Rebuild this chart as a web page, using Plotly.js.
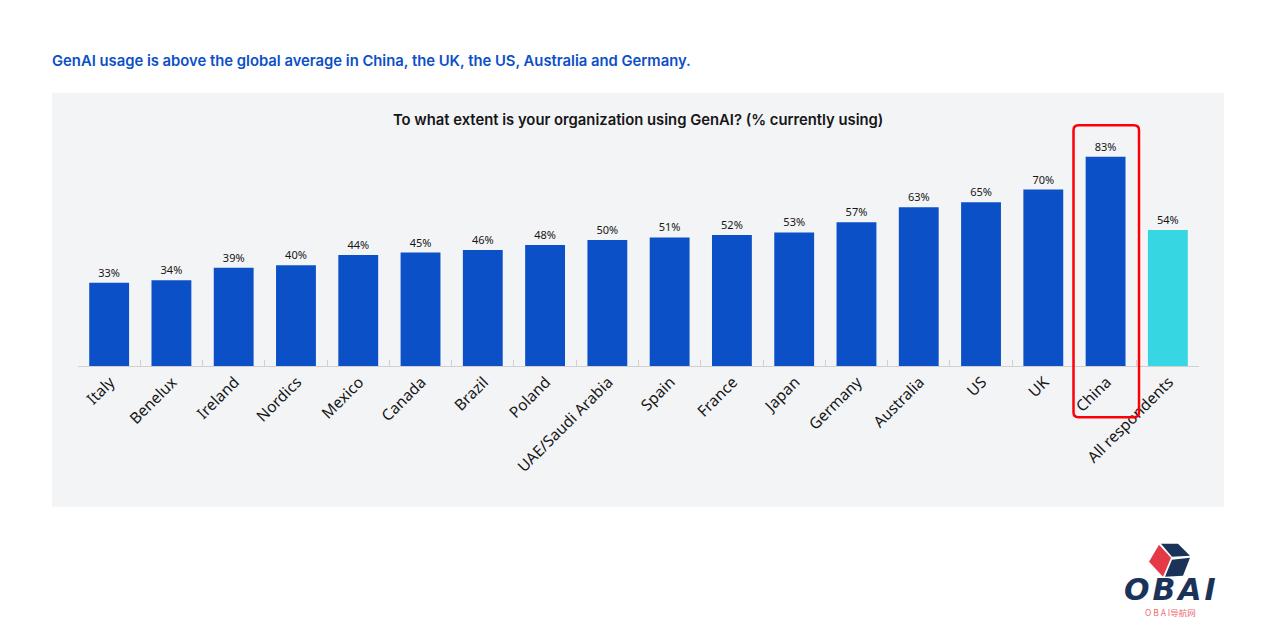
<!DOCTYPE html>
<html><head><meta charset="utf-8">
<script src="https://cdn.plot.ly/plotly-3.0.1.min.js"></script>
<style>html,body{margin:0;padding:0;background:#fff}#c{width:1277px;height:626px}</style>
</head><body><div id="c"></div>
<script>
const categories=["Italy","Benelux","Ireland","Nordics","Mexico","Canada","Brazil","Poland","UAE/Saudi Arabia","Spain","France","Japan","Germany","Australia","US","UK","China","All respondents"];
const values=[33,34,39,40,44,45,46,48,50,51,52,53,57,63,65,70,83,54];
const labels=values.map(v=>v+"%");
const BLUE="#0c50c8",TEAL="#36d6e3",NAVY="#1b3358",RED="#e63946";
const colors=categories.map(c=>c==="All respondents"?TEAL:BLUE);
const W=1277,H=626,L=78,R=78,T=114.3,B=259.7;
const px=x=>(x-L)/(W-L-R), py=y=>1-(y-T)/(H-T-B);
const poly=(pts,fill)=>({type:"path",xref:"paper",yref:"paper",layer:"above",fillcolor:fill,line:{width:0},
  path:"M"+pts.map(p=>px(p[0])+","+py(p[1])).join("L")+"Z"});
const note=(x,y,text,size,color,anchor,weight,family,style)=>({xref:"paper",yref:"paper",x:px(x),y:py(y),text,showarrow:false,
  xanchor:anchor,yanchor:"middle",font:{size,color,family,weight:weight||400,style:style||"normal"}});
const SANS="Inter, 'Noto Sans', sans-serif";
const rr=(x0,y0,x1,y1,r)=>`M${px(x0+r)},${py(y0)}L${px(x1-r)},${py(y0)}Q${px(x1)},${py(y0)} ${px(x1)},${py(y0+r)}L${px(x1)},${py(y1-r)}Q${px(x1)},${py(y1)} ${px(x1-r)},${py(y1)}L${px(x0+r)},${py(y1)}Q${px(x0)},${py(y1)} ${px(x0)},${py(y1-r)}L${px(x0)},${py(y0+r)}Q${px(x0)},${py(y0)} ${px(x0+r)},${py(y0)}Z`;
Plotly.newPlot("c",[{type:"bar",x:categories,y:values,text:labels,textposition:"outside",cliponaxis:false,
  textfont:{size:11,color:"#161616",family:"'Noto Sans', sans-serif"},marker:{color:colors,line:{width:0}},width:0.64,hoverinfo:"x+y"}],{
  width:W,height:H,margin:{l:L,r:R,t:T,b:B,pad:0},paper_bgcolor:"#fff",plot_bgcolor:"rgba(0,0,0,0)",showlegend:false,
  xaxis:{type:"category",tickangle:-45,tickson:"boundaries",ticks:"inside",ticklen:6,tickcolor:"#d0d0d0",tickwidth:1,ticklabelshift:1,
    showline:true,linecolor:"#d0d0d0",linewidth:1,showgrid:false,automargin:false,tickfont:{size:15.5,color:"#161616",family:"'Noto Sans', sans-serif"}},
  yaxis:{range:[0,100],visible:false,showgrid:false,zeroline:false},
  shapes:[
    {type:"rect",xref:"paper",yref:"paper",layer:"below",x0:px(52),x1:px(1224),y0:py(93),y1:py(507),fillcolor:"#f3f4f6",line:{width:0}},
    {type:"path",xref:"paper",yref:"paper",layer:"above",path:rr(1073.5,125.5,1139,417.5,5),fillcolor:"rgba(0,0,0,0)",line:{color:"#fb0007",width:2.5}},
    poly([[1149,562],[1159,545],[1171,558],[1163,577]],RED),
    poly([[1161,544],[1178,544],[1190,556],[1172,557]],NAVY),
    poly([[1172,560],[1190,558],[1183,576],[1165,577]],NAVY)
  ],
  annotations:[
    note(50,61,"GenAI usage is above the global average in China, the UK, the US, Australia and Germany.",14.8,BLUE,"left",600,SANS),
    note(638,120,"To what extent is your organization using GenAI? (% currently using)",14.8,"#161616","center",600,SANS),
    note(1170,590,"O\u200aB\u200aA\u200aI",30,NAVY,"center",900,"'DejaVu Sans', sans-serif","italic"),
    note(1170,612,"O B A I导航网",8.5,"#ee6a72","center",400,"'Noto Sans CJK SC', sans-serif")
  ]
},{displayModeBar:false,staticPlot:true});
</script></body></html>
